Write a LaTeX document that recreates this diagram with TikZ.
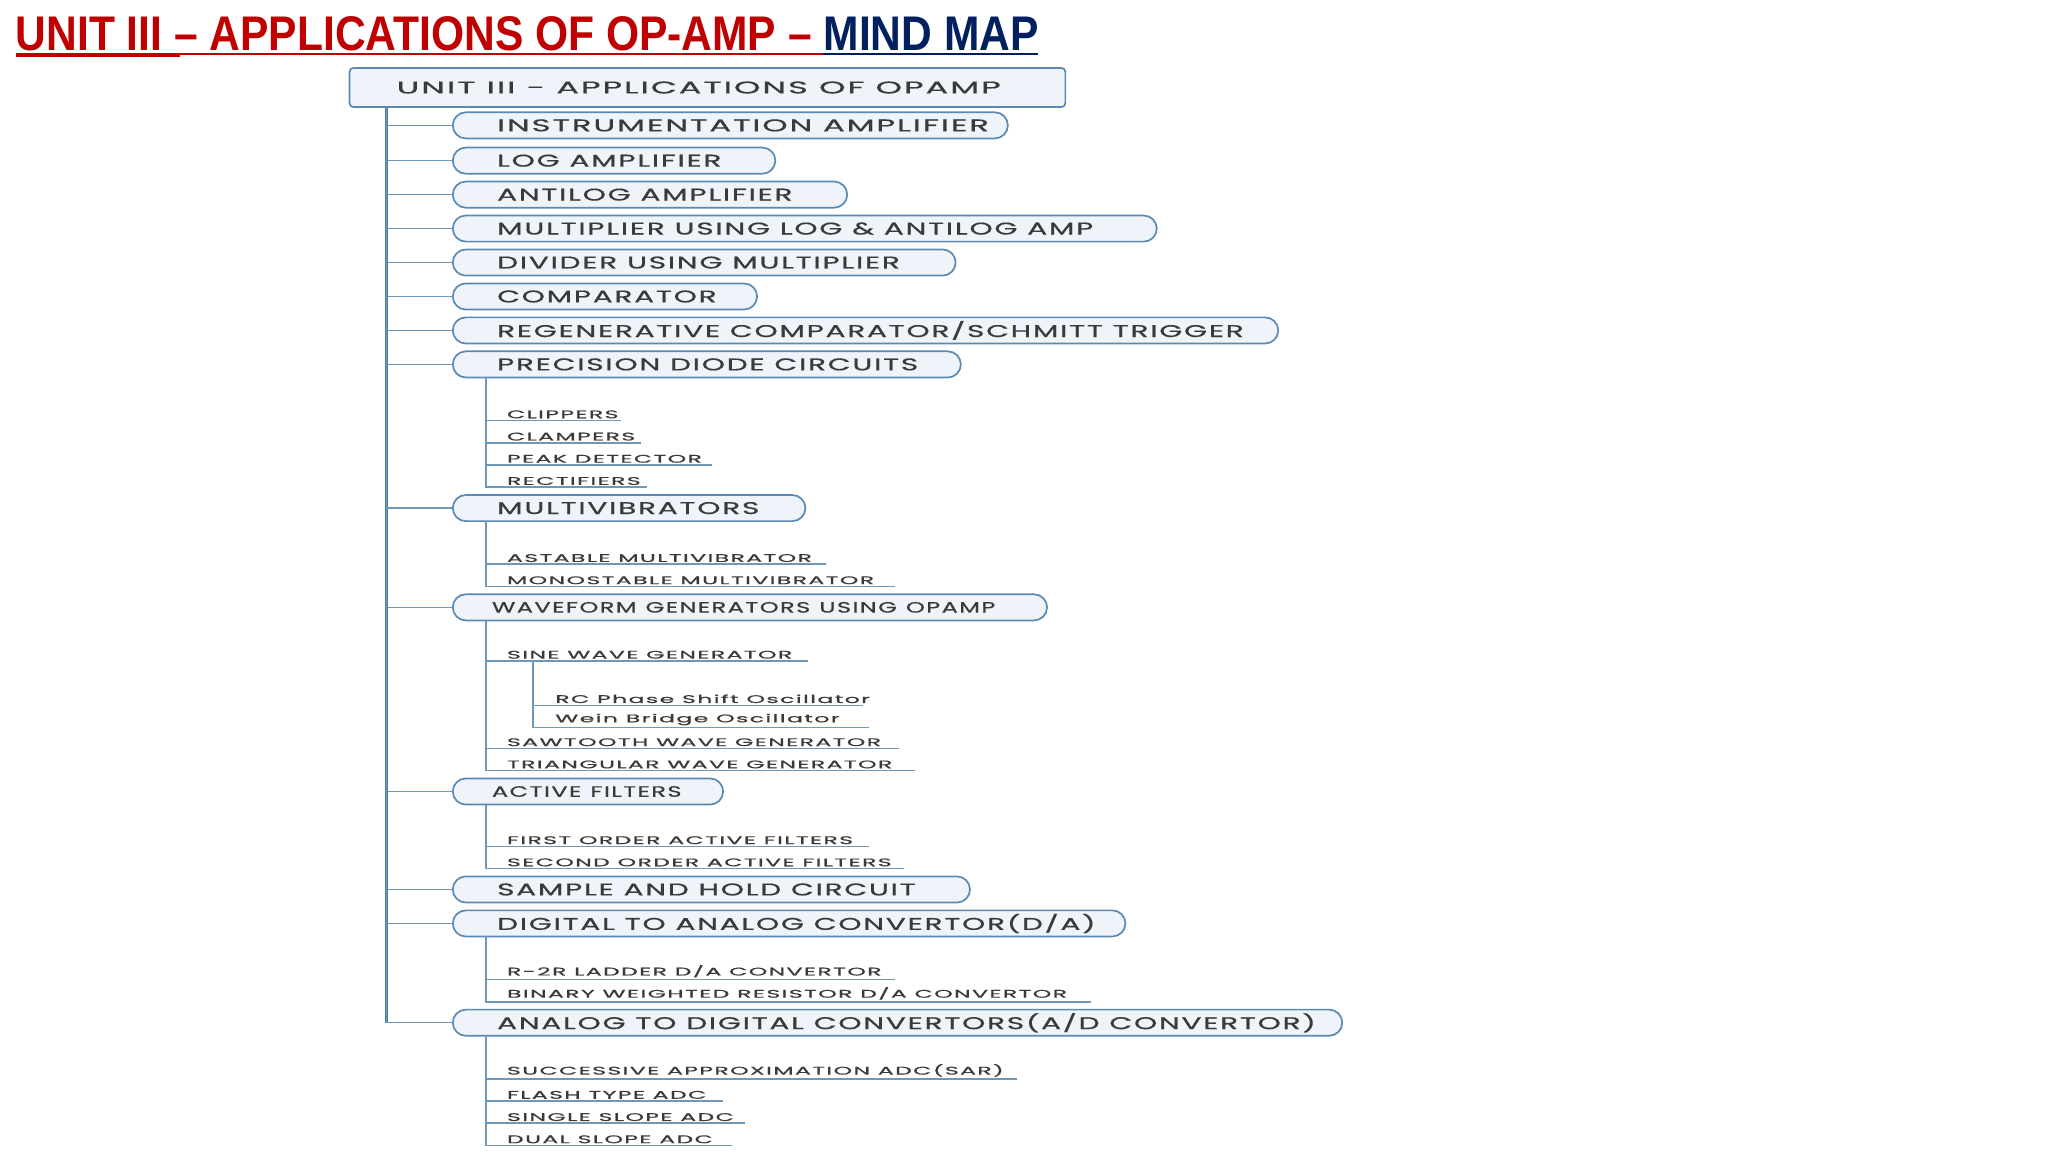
\documentclass[tikz,border=0pt]{standalone}
\usepackage{fontspec}
\setmainfont{Liberation Sans}
\newfontfamily\mmfont[LetterSpace=6,FakeBold=0.6]{Poppins}
\usetikzlibrary{shapes.misc}
\definecolor{trunk}{HTML}{4A7DA6}
\definecolor{nfill}{HTML}{EEF4FA}
\definecolor{ndraw}{HTML}{5A8AB2}
\definecolor{ntext}{HTML}{3A3A3A}
\definecolor{tred}{HTML}{C00000}
\definecolor{tblue}{HTML}{002060}
\tikzset{
  l1/.style={draw=ndraw, fill=nfill, line width=1.3pt, rounded corners=10pt, minimum height=20pt, inner xsep=0pt, inner ysep=0pt, align=left, anchor=west, font=\mmfont\fontsize{13}{14}\selectfont, text=ntext},
  rootbox/.style={draw=ndraw, fill=nfill, line width=1.3pt, rounded corners=3pt, minimum height=30pt, inner xsep=0pt, align=left, anchor=west, font=\mmfont\fontsize{13}{15}\selectfont, text=ntext},
  leafn/.style={inner xsep=0pt, inner ysep=1.5pt, align=left, anchor=south west, font=\mmfont\fontsize{8.5}{10}\selectfont, text=ntext},
  tr/.style={draw=trunk, line width=2pt},
  br/.style={draw=trunk!80, line width=1.2pt},
}
\newcommand\lone[5]{\node[l1, text width=#4-346pt] (#1) at (346,#3) {\hspace*{34pt}\scalebox{1.74}[1]{#5}};
  \draw[br] (#2) |- (#1.west);}
\newcommand\lsm[5]{\node[l1, text width=#4-346pt] (#1) at (346,#3) {\hspace*{30pt}\scalebox{1.6}[1]{\fontsize{11.5}{13}\selectfont #5}};
  \draw[br] (#2) |- (#1.west);}
\newcommand\lfx[6]{\node[leafn, text width=#5-#3pt] (#1) at (#3,#4+5) {\scalebox{2.12}[1]{#6}};
  \draw[br] (#2) |- (#1.south west) -- (#1.south east);}
\begin{document}
\begin{tikzpicture}[x=1pt,y=-1pt]
\useasboundingbox (0,0) rectangle (1568,882);
\fill[white] (0,0) rectangle (1568,882);
% title
\node[anchor=south west, inner sep=0pt] (title) at (12,39) {\resizebox{783pt}{26pt}{\bfseries\textcolor{tred}{UNIT III – APPLICATIONS OF OP-AMP – }\textcolor{tblue}{MIND MAP}}};
\draw[tred, line width=1.5pt] (12,41) -- (630,41);
\draw[tred, line width=3pt] (12,42) -- (138,42);
\draw[tblue, line width=1.5pt] (630,41) -- (795,41);
% root
\node[rootbox, text width=548pt] (root) at (267,67) {\hspace*{36pt}\scalebox{1.98}[1]{UNIT III - APPLICATIONS OF OPAMP}};
\coordinate (T) at (296,82);
\draw[tr] (T) -- (296,783);
\node[l1, text width=425pt] (p1) at (346,96) {\hspace*{34pt}\scalebox{1.9}[1]{INSTRUMENTATION AMPLIFIER}};
\draw[br] (T) |- (p1.west);
\lone{p2}{T}{123}{593}{LOG AMPLIFIER}
\lone{p3}{T}{149}{648}{ANTILOG AMPLIFIER}
\lone{p4}{T}{175}{885}{MULTIPLIER USING LOG \& ANTILOG AMP}
\lone{p5}{T}{201}{731}{DIVIDER USING MULTIPLIER}
\lone{p6}{T}{227}{579}{COMPARATOR}
\lone{p7}{T}{253}{978}{REGENERATIVE COMPARATOR/SCHMITT TRIGGER}
\lone{p8}{T}{279}{735}{PRECISION DIODE CIRCUITS}
\lone{p9}{T}{389}{616}{MULTIVIBRATORS}
\lsm{p10}{T}{465}{801}{WAVEFORM GENERATORS USING OPAMP}
\lsm{p11}{T}{606}{553}{ACTIVE FILTERS}
\lone{p12}{T}{681}{742}{SAMPLE AND HOLD CIRCUIT}
\lone{p13}{T}{707}{861}{DIGITAL TO ANALOG CONVERTOR(D/A)}
\lone{p14}{T}{783}{1027}{ANALOG TO DIGITAL CONVERTORS(A/D CONVERTOR)}
% branch starts
\coordinate (b8) at (372,289);
\coordinate (b9) at (372,399);
\coordinate (b10) at (372,475);
\coordinate (b11) at (372,616);
\coordinate (b13) at (372,717);
\coordinate (b14) at (372,793);
\lfx{c1}{b8}{388}{317}{475}{CLIPPERS}
\lfx{c2}{b8}{388}{334}{490}{CLAMPERS}
\lfx{c3}{b8}{388}{351}{545}{PEAK DETECTOR}
\lfx{c4}{b8}{388}{368}{495}{RECTIFIERS}
\lfx{m1}{b9}{388}{427}{632}{ASTABLE MULTIVIBRATOR}
\lfx{m2}{b9}{388}{444}{685}{MONOSTABLE MULTIVIBRATOR}
\lfx{w1}{b10}{388}{501}{618}{SINE WAVE GENERATOR}
\coordinate (bw1) at (408,506);
\lfx{w1a}{bw1}{425}{535}{660}{RC Phase Shift Oscillator}
\lfx{w1b}{bw1}{425}{552}{665}{Wein Bridge Oscillator}
\lfx{w2}{b10}{388}{568}{688}{SAWTOOTH WAVE GENERATOR}
\lfx{w3}{b10}{388}{585}{700}{TRIANGULAR WAVE GENERATOR}
\lfx{f1}{b11}{388}{643}{665}{FIRST ORDER ACTIVE FILTERS}
\lfx{f2}{b11}{388}{660}{692}{SECOND ORDER ACTIVE FILTERS}
\lfx{d1}{b13}{388}{745}{685}{R-2R LADDER D/A CONVERTOR}
\lfx{d2}{b13}{388}{762}{835}{BINARY WEIGHTED RESISTOR D/A CONVERTOR}
\lfx{a1}{b14}{388}{821}{778}{SUCCESSIVE APPROXIMATION ADC(SAR)}
\lfx{a2}{b14}{388}{838}{553}{FLASH TYPE ADC}
\lfx{a3}{b14}{388}{855}{570}{SINGLE SLOPE ADC}
\lfx{a4}{b14}{388}{872}{560}{DUAL SLOPE ADC}
\end{tikzpicture}
\end{document}
